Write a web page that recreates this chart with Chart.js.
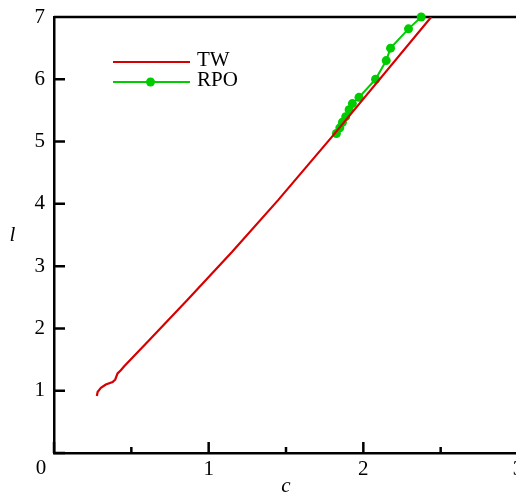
<!DOCTYPE html>
<html>
<head>
<meta charset="utf-8">
<script src="https://cdn.jsdelivr.net/npm/chart.js@4.4.0/dist/chart.umd.min.js"></script>
<style>
html,body{margin:0;padding:0;background:#fff;overflow:hidden;width:516px;height:494px;}
#wrap{position:absolute;left:0;top:0;width:516px;height:494px;overflow:hidden;}
canvas{display:block;}
</style>
</head>
<body>
<div id="wrap"><canvas id="c" width="540" height="500" style="width:540px;height:500px"></canvas></div>
<script>
// ---- data ----
const twC  = [0.277, 0.282, 0.303, 0.335, 0.379, 0.396, 0.411, 0.432, 0.454, 0.615, 0.862, 1.152, 1.449, 1.798, 2.439];
const twL  = [0.916, 0.980, 1.045, 1.100, 1.140, 1.180, 1.277, 1.330, 1.394, 1.810, 2.455, 3.230, 4.060, 5.080, 7.000];
const rpoC = [1.826, 1.848, 1.865, 1.886, 1.908, 1.929, 1.972, 2.079, 2.148, 2.176, 2.292, 2.374];
const rpoL = [5.13, 5.22, 5.31, 5.40, 5.51, 5.61, 5.71, 6.00, 6.30, 6.50, 6.81, 7.00];
const xMajor = [0, 1, 2, 3];
const xMinor = [0.5, 1.5, 2.5];
const yMajor = [0, 1, 2, 3, 4, 5, 6, 7];
const seriesNames = ['TW', 'RPO'];
const xTitle = 'c';
const yTitle = 'l';

const RED = '#d60000';
const GREEN = '#00cc00';
const FONT = "'Liberation Serif', 'Times New Roman', serif";

const toXY = (xs, ys) => xs.map((x, i) => ({x: x, y: ys[i]}));

const framePlugin = {
  id: 'frame',
  beforeDatasetsDraw(chart) {
    const ctx = chart.ctx, a = chart.chartArea;
    const xs = chart.scales.x, ys = chart.scales.y;
    ctx.save();
    ctx.strokeStyle = '#000';
    ctx.lineWidth = 2.5;
    ctx.beginPath();
    ctx.moveTo(a.left, a.top); ctx.lineTo(a.right, a.top);
    ctx.moveTo(a.right, a.top); ctx.lineTo(a.right, a.bottom);
    // x ticks (inward)
    xMajor.forEach(v => { const p = xs.getPixelForValue(v); ctx.moveTo(p, a.bottom); ctx.lineTo(p, a.bottom - 11); });
    xMinor.forEach(v => { const p = xs.getPixelForValue(v); ctx.moveTo(p, a.bottom); ctx.lineTo(p, a.bottom - 6); });
    // y ticks (inward)
    yMajor.forEach(v => { const p = ys.getPixelForValue(v); ctx.moveTo(a.left, p); ctx.lineTo(a.left + 11, p); });
    ctx.stroke();
    ctx.restore();
  },
  afterDraw(chart) {
    const ctx = chart.ctx, a = chart.chartArea;
    const xs = chart.scales.x;
    ctx.save();
    ctx.fillStyle = '#000';
    // origin label
    ctx.font = '21px ' + FONT;
    ctx.textAlign = 'center';
    ctx.textBaseline = 'middle';
    ctx.fillText('0', xs.getPixelForValue(0) - 13, a.bottom + 15);
    // axis titles
    ctx.font = 'italic 21px ' + FONT;
    ctx.fillText(xTitle, (a.left + a.right) / 2, 486);
    ctx.fillText(yTitle, 12.5, 235);
    // legend
    const ds = chart.data.datasets;
    const lx0 = 113, lx1 = 190, tx = 197;
    const rows = [62, 82];
    ds.forEach((d, i) => {
      const y = rows[i];
      ctx.strokeStyle = d.borderColor;
      ctx.lineWidth = 2;
      ctx.beginPath(); ctx.moveTo(lx0, y); ctx.lineTo(lx1, y); ctx.stroke();
      if (d.pointRadius > 0) {
        ctx.fillStyle = d.pointBackgroundColor;
        ctx.beginPath(); ctx.arc((lx0 + lx1) / 2 - 1, y, 4.5, 0, Math.PI * 2); ctx.fill();
      }
      ctx.fillStyle = '#000';
      ctx.font = '21px ' + FONT;
      ctx.textAlign = 'left';
      ctx.textBaseline = 'middle';
      ctx.fillText(d.label, tx, y - 1.5);
    });
    ctx.restore();
  }
};

new Chart(document.getElementById('c'), {
  type: 'scatter',
  data: {
    datasets: [
      { label: seriesNames[0], data: toXY(twC, twL), showLine: true, borderColor: RED, borderWidth: 2.2,
        pointRadius: 0, pointBackgroundColor: RED, tension: 0, fill: false },
      { label: seriesNames[1], data: toXY(rpoC, rpoL), showLine: true, borderColor: GREEN, borderWidth: 2,
        pointRadius: 4.5, pointHoverRadius: 4.5, pointBackgroundColor: GREEN, pointBorderColor: GREEN, pointBorderWidth: 0,
        tension: 0, fill: false, clip: false }
    ]
  },
  options: {
    responsive: false,
    animation: false,
    devicePixelRatio: 1,
    layout: { padding: { top: 17, right: 22, left: 0, bottom: 0 } },
    plugins: { legend: { display: false }, tooltip: { enabled: false } },
    scales: {
      x: {
        type: 'linear', position: 'bottom', min: 0, max: 3,
        afterBuildTicks: s => { s.ticks = xMajor.map(v => ({value: v})); },
        afterFit: s => { s.height = 47; s.paddingLeft = 0; s.paddingRight = 0; },
        grid: { display: false, drawTicks: false, tickLength: 0 },
        border: { display: true, color: '#000', width: 2.5 },
        ticks: { color: '#000', font: { family: FONT, size: 21 }, padding: 4, maxRotation: 0,
                 callback: v => (v === 0 ? '' : String(v)) }
      },
      y: {
        type: 'linear', position: 'left', min: 0, max: 7,
        afterBuildTicks: s => { s.ticks = yMajor.map(v => ({value: v})); },
        afterFit: s => { s.width = 54; s.paddingTop = 0; s.paddingBottom = 0; },
        grid: { display: false, drawTicks: false, tickLength: 0 },
        border: { display: true, color: '#000', width: 2.5 },
        ticks: { color: '#000', font: { family: FONT, size: 21 }, padding: 9,
                 callback: v => (v === 0 ? '' : String(v)) }
      }
    }
  },
  plugins: [framePlugin]
});
</script>
</body>
</html>
